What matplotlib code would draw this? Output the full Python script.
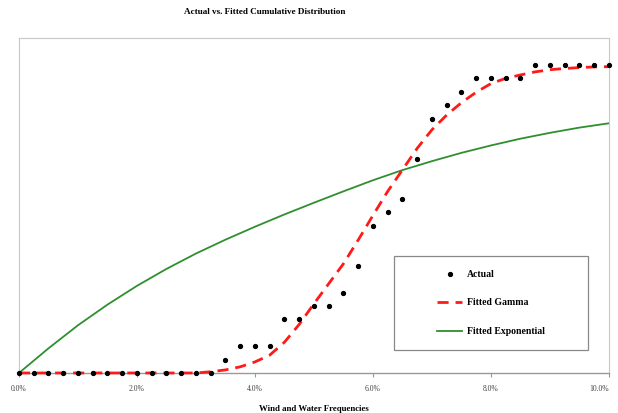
import matplotlib
matplotlib.use("Agg")
import matplotlib.pyplot as plt
from matplotlib.patches import Rectangle

plt.rcParams['font.family'] = ['Liberation Serif', 'DejaVu Serif']

# observed cumulative frequencies, every 0.25%
x_actual = [0.0, 0.25, 0.5, 0.75, 1.0, 1.25, 1.5, 1.75, 2.0, 2.25, 2.5, 2.75,
            3.0, 3.25, 3.5, 3.75, 4.0, 4.25, 4.5, 4.75, 5.0, 5.25, 5.5, 5.75,
            6.0, 6.25, 6.5, 6.75, 7.0, 7.25, 7.5, 7.75, 8.0, 8.25, 8.5, 8.75,
            9.0, 9.25, 9.5, 9.75, 10.0]
y_actual = [0, 0, 0, 0, 0, 0, 0, 0, 0, 0, 0, 0,
            0, 0, 0.043, 0.087, 0.087, 0.087, 0.174, 0.174, 0.217, 0.217, 0.261, 0.348,
            0.478, 0.522, 0.565, 0.696, 0.826, 0.870, 0.913, 0.957, 0.957, 0.957, 0.957, 1.0,
            1.0, 1.0, 1.0, 1.0, 1.0]

# fitted gamma cdf
y_gamma = [0, 0, 0, 0, 0, 0, 0, 0, 0, 0, 0, 0,
           0, 0.004, 0.010, 0.020, 0.036, 0.058, 0.100, 0.158, 0.225, 0.290, 0.355, 0.432,
           0.512, 0.590, 0.660, 0.730, 0.790, 0.838, 0.878, 0.912, 0.940, 0.957, 0.968, 0.978,
           0.985, 0.989, 0.992, 0.994, 0.995]

# fitted exponential cdf, every 0.5%
x_exp = [0.0, 0.5, 1.0, 1.5, 2.0, 2.5, 3.0, 3.5, 4.0, 4.5, 5.0, 5.5, 6.0, 6.5,
         7.0, 7.5, 8.0, 8.5, 9.0, 9.5, 10.0]
y_exp = [0.0, 0.080, 0.155, 0.222, 0.283, 0.338, 0.388, 0.433, 0.475, 0.515, 0.553,
         0.590, 0.626, 0.659, 0.688, 0.715, 0.739, 0.761, 0.780, 0.797, 0.811]

xticks = [0, 2, 4, 6, 8, 10]
xticklabels = ['0.0%', '2.0%', '4.0%', '6.0%', '8.0%', '10.0%']

fig = plt.figure(figsize=(6.18, 4.13), dpi=100)
ax = fig.add_axes([0.0307, 0.0969, 0.9547, 0.8111])

ax.plot(x_exp, y_exp, color='#2f8f2f', lw=1.3, label='Fitted Exponential', clip_on=False, zorder=2)
ax.plot(x_actual, y_gamma, color='#ff1a1a', lw=2.0, dashes=(4, 2.5), label='Fitted Gamma',
        clip_on=False, zorder=3)
ax.plot(x_actual, y_actual, 'o', color='black', ms=2.8, label='Actual', clip_on=False, zorder=4)

ax.set_xlim(0, 10)
ax.set_ylim(0, 1.088)
ax.set_xticks(xticks)
ax.set_xticklabels(xticklabels, fontsize=5.5, color='#444444')
ax.get_xticklabels()[-1].set_ha('right')
ax.get_xticklabels()[-1].set_x(10.15)
ax.set_yticks([])
ax.tick_params(axis='x', length=3, color='#999999', pad=6)
for s in ['left', 'top', 'right']:
    ax.spines[s].set_color('#c8c8c8')
    ax.spines[s].set_linewidth(0.8)
ax.spines['bottom'].set_color('#999999')
ax.spines['bottom'].set_linewidth(1.0)

ax.set_xlabel('Wind and Water Frequencies', fontsize=6.3, fontweight='bold', labelpad=8)
fig.text(0.429, 0.97, 'Actual vs. Fitted Cumulative Distribution', ha='center', va='center',
         fontsize=6.6, fontweight='bold')

# legend box
ax.add_patch(Rectangle((0.636, 0.069), 0.328, 0.28, transform=ax.transAxes, fill=False,
                       edgecolor='#888888', lw=0.9, zorder=5))
h, l = ax.get_legend_handles_labels()
order = [2, 1, 0]
leg = ax.legend([h[i] for i in order], [l[i] for i in order], loc='center',
                bbox_to_anchor=(0.80, 0.209), frameon=False,
                prop={'size': 7, 'weight': 'bold'}, labelspacing=2.0,
                handlelength=2.6, handletextpad=0.5)

plt.savefig('out.png', dpi=100)
